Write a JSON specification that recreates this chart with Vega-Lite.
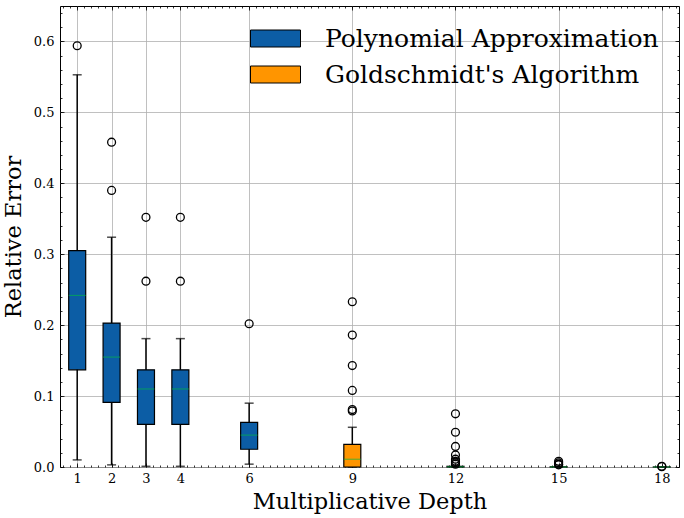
{
  "$schema": "https://vega.github.io/schema/vega-lite/v6.json",
  "width": 619,
  "height": 461,
  "autosize": {"type": "none"},
  "padding": {"left": 60, "top": 6, "right": 5, "bottom": 51},
  "datasets": {
    "boxes": [
      {"depth": 1, "method": "Polynomial Approximation", "lower": 0.010, "q1": 0.137, "median": 0.242, "q3": 0.305, "upper": 0.553},
      {"depth": 2, "method": "Polynomial Approximation", "lower": 0.003, "q1": 0.091, "median": 0.155, "q3": 0.203, "upper": 0.324},
      {"depth": 3, "method": "Polynomial Approximation", "lower": 0.001, "q1": 0.060, "median": 0.110, "q3": 0.137, "upper": 0.181},
      {"depth": 4, "method": "Polynomial Approximation", "lower": 0.001, "q1": 0.060, "median": 0.110, "q3": 0.137, "upper": 0.181},
      {"depth": 6, "method": "Polynomial Approximation", "lower": 0.004, "q1": 0.025, "median": 0.045, "q3": 0.063, "upper": 0.090},
      {"depth": 9, "method": "Goldschmidt's Algorithm", "lower": 0.000, "q1": 0.000, "median": 0.011, "q3": 0.032, "upper": 0.056},
      {"depth": 12, "method": "Goldschmidt's Algorithm", "lower": 0.000, "q1": 0.000, "median": 0.0003, "q3": 0.001, "upper": 0.002},
      {"depth": 15, "method": "Goldschmidt's Algorithm", "lower": 0.000, "q1": 0.000, "median": 0.0001, "q3": 0.0003, "upper": 0.0008},
      {"depth": 18, "method": "Goldschmidt's Algorithm", "lower": 0.000, "q1": 0.000, "median": 0.0000, "q3": 0.0001, "upper": 0.0002}
    ],
    "outliers": [
      {"depth": 1, "value": 0.594},
      {"depth": 2, "value": 0.390},
      {"depth": 2, "value": 0.458},
      {"depth": 3, "value": 0.262},
      {"depth": 3, "value": 0.352},
      {"depth": 4, "value": 0.262},
      {"depth": 4, "value": 0.352},
      {"depth": 6, "value": 0.202},
      {"depth": 9, "value": 0.079},
      {"depth": 9, "value": 0.081},
      {"depth": 9, "value": 0.108},
      {"depth": 9, "value": 0.143},
      {"depth": 9, "value": 0.186},
      {"depth": 9, "value": 0.233},
      {"depth": 12, "value": 0.075},
      {"depth": 12, "value": 0.049},
      {"depth": 12, "value": 0.029},
      {"depth": 12, "value": 0.017},
      {"depth": 12, "value": 0.011},
      {"depth": 12, "value": 0.008},
      {"depth": 12, "value": 0.006},
      {"depth": 12, "value": 0.004},
      {"depth": 15, "value": 0.008},
      {"depth": 15, "value": 0.006},
      {"depth": 15, "value": 0.004},
      {"depth": 15, "value": 0.003},
      {"depth": 18, "value": 0.001},
      {"depth": 18, "value": 0.0005}
    ]
  },
  "resolve": {"axis": {"x": "independent", "y": "independent"}},
  "layer": [
    {
      "data": {"name": "boxes"},
      "mark": {"type": "rule", "color": "black", "strokeWidth": 1.5},
      "encoding": {
        "x": {
          "field": "depth", "type": "quantitative",
          "scale": {"domain": [0.5, 18.5], "nice": false, "zero": false, "padding": 0},
          "axis": {
            "orient": "bottom", "values": [1, 2, 3, 4, 6, 9, 12, 15, 18], "format": "d",
            "grid": true, "tickSize": -4, "labelPadding": 9,
            "title": "Multiplicative Depth", "titlePadding": 5
          }
        },
        "y": {
          "field": "lower", "type": "quantitative",
          "scale": {"domain": [0, 0.65], "nice": false, "zero": false, "padding": 0},
          "axis": {
            "orient": "left", "values": [0, 0.1, 0.2, 0.3, 0.4, 0.5, 0.6], "format": ".1f",
            "grid": true, "tickSize": -4, "labelPadding": 10,
            "title": "Relative Error", "titlePadding": 8
          }
        },
        "y2": {"field": "upper"}
      }
    },
    {
      "data": {"name": "boxes"},
      "mark": {"type": "tick", "orient": "horizontal", "color": "black", "size": 9, "thickness": 1.5},
      "encoding": {
        "x": {
          "field": "depth", "type": "quantitative",
          "axis": {"orient": "top", "values": [1, 2, 3, 4, 6, 9, 12, 15, 18], "labels": false, "grid": false, "tickSize": -4, "title": null}
        },
        "y": {
          "field": "lower", "type": "quantitative",
          "axis": {"orient": "right", "values": [0, 0.1, 0.2, 0.3, 0.4, 0.5, 0.6], "labels": false, "grid": false, "tickSize": -4, "title": null}
        }
      }
    },
    {
      "data": {"name": "boxes"},
      "mark": {"type": "tick", "orient": "horizontal", "color": "black", "size": 9, "thickness": 1.5},
      "encoding": {
        "x": {
          "field": "depth", "type": "quantitative",
          "axis": {"orient": "bottom", "tickCount": 90, "labels": false, "grid": false, "tickSize": -2, "title": null}
        },
        "y": {
          "field": "upper", "type": "quantitative",
          "axis": {"orient": "left", "tickCount": 33, "labels": false, "grid": false, "tickSize": -2, "title": null}
        }
      }
    },
    {
      "data": {"name": "boxes"},
      "mark": {"type": "bar", "size": 17, "stroke": "black", "strokeWidth": 1.2, "opacity": 1},
      "encoding": {
        "x": {
          "field": "depth", "type": "quantitative",
          "axis": {"orient": "top", "tickCount": 90, "labels": false, "grid": false, "tickSize": -2, "title": null}
        },
        "y": {
          "field": "q1", "type": "quantitative",
          "axis": {"orient": "right", "tickCount": 33, "labels": false, "grid": false, "tickSize": -2, "title": null}
        },
        "y2": {"field": "q3"},
        "color": {
          "field": "method", "type": "nominal",
          "scale": {"domain": ["Polynomial Approximation", "Goldschmidt's Algorithm"], "range": ["#0C5DA5", "#FF9500"]},
          "legend": {
            "title": null, "orient": "top-right", "offset": 20,
            "symbolType": "M-2.5,-0.85H2.5V0.85H-2.5Z", "symbolSize": 400,
            "symbolStrokeColor": "black", "symbolStrokeWidth": 1, "symbolOpacity": 1,
            "labelOffset": 37, "rowPadding": 10,
            "labelFont": "DejaVu Serif", "labelFontSize": 25, "labelColor": "black", "labelLimit": 500
          }
        }
      }
    },
    {
      "data": {"name": "boxes"},
      "mark": {"type": "tick", "orient": "horizontal", "color": "#00B945", "size": 17, "thickness": 1},
      "encoding": {
        "x": {"field": "depth", "type": "quantitative", "axis": null},
        "y": {"field": "median", "type": "quantitative", "axis": null}
      }
    },
    {
      "data": {"name": "outliers"},
      "mark": {"type": "point", "shape": "circle", "filled": false, "color": "black", "strokeWidth": 1.3, "size": 62, "opacity": 1},
      "encoding": {
        "x": {"field": "depth", "type": "quantitative", "axis": null},
        "y": {"field": "value", "type": "quantitative", "axis": null}
      }
    }
  ],
  "config": {
    "view": {"stroke": "black", "strokeWidth": 1},
    "font": "DejaVu Serif",
    "axis": {
      "domain": false,
      "tickColor": "black",
      "tickWidth": 0.8,
      "gridColor": "#b0b0b0",
      "gridWidth": 0.8,
      "gridOpacity": 1,
      "labelFont": "DejaVu Serif",
      "labelFontSize": 13,
      "labelColor": "black",
      "titleFont": "DejaVu Serif",
      "titleFontSize": 22.5,
      "titleFontWeight": "normal",
      "titleColor": "black"
    }
  }
}
